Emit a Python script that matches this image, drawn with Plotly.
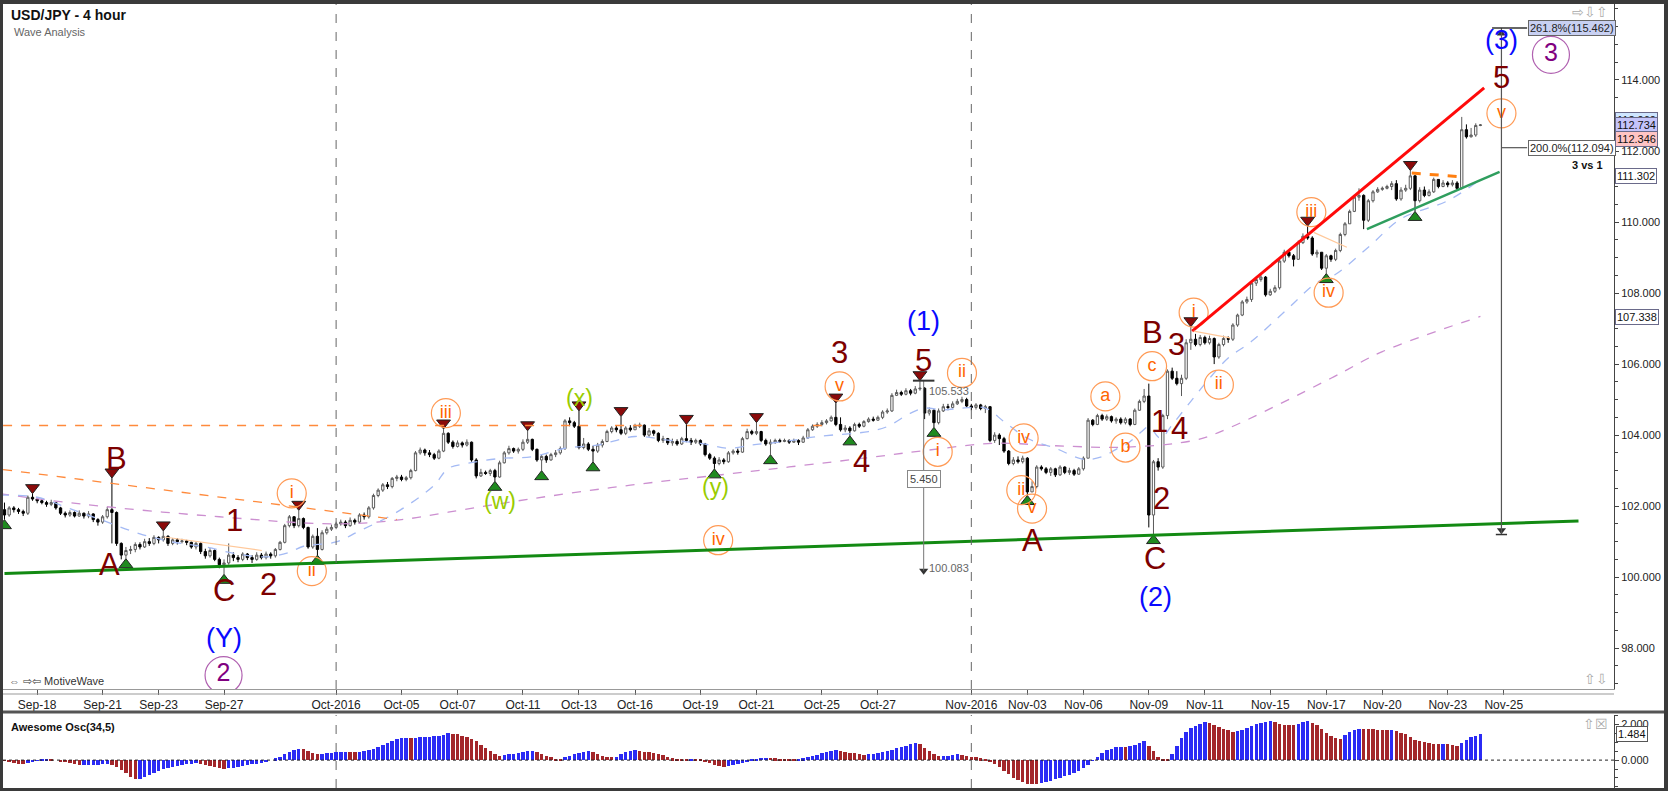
import plotly.graph_objects as go

# ------------------------------------------------------------------ data
tick_idx = [7, 21, 33, 47, 71, 85, 97, 111, 123, 135, 149, 161, 175, 187,
            207, 219, 231, 245, 257, 271, 283, 295, 309, 321]
tick_labels = ["Sep-18", "Sep-21", "Sep-23", "Sep-27", "Oct-2016", "Oct-05", "Oct-07",
               "Oct-11", "Oct-13", "Oct-16", "Oct-19", "Oct-21", "Oct-25", "Oct-27",
               "Nov-2016", "Nov-03", "Nov-06", "Nov-09", "Nov-11", "Nov-15", "Nov-17",
               "Nov-20", "Nov-23", "Nov-25"]
price_ticks = [98, 100, 102, 104, 106, 108, 110, 112, 114]
ao_ticks = [0, 2]
month_lines = [71, 207]

first_open = 101.90
closes = [
    101.75, 101.95, 101.90, 101.85, 101.80, 102.25, 102.20, 102.15, 102.10, 102.05,
    102.10, 101.95, 101.80, 101.75, 101.82, 101.72, 101.80, 101.72, 101.78, 101.62,
    101.55, 101.70, 101.90, 101.82, 100.95, 100.62, 100.75, 100.78, 100.92, 100.85,
    101.00, 100.95, 101.12, 101.05, 101.15, 100.95, 101.05, 101.00, 101.02, 100.98,
    100.85, 100.95, 100.72, 100.60, 100.75, 100.50, 100.35, 100.40, 100.62, 100.55,
    100.50, 100.65, 100.55, 100.50, 100.62, 100.55, 100.65, 100.60, 100.78, 100.98,
    101.45, 101.70, 101.45, 101.65, 101.40, 100.85, 101.15, 100.78, 101.25, 101.35,
    101.40, 101.50, 101.55, 101.45, 101.60, 101.55, 101.75, 101.70, 101.95, 102.30,
    102.45, 102.60, 102.55, 102.78, 102.82, 102.75, 102.80, 103.00, 103.50, 103.58,
    103.50, 103.45, 103.35, 103.55, 104.05, 103.80, 103.68, 103.78, 103.72, 103.80,
    103.30, 102.85, 102.95, 102.92, 103.00, 102.82, 103.22, 103.50, 103.62, 103.55,
    103.60, 103.80, 103.88, 103.60, 103.30, 103.40, 103.30, 103.45, 103.50, 103.62,
    104.40, 104.35, 104.25, 103.65, 103.75, 103.60, 103.55, 103.72, 103.82, 104.10,
    104.20, 104.15, 104.05, 104.20, 104.15, 104.25, 104.28, 104.00, 104.12, 104.05,
    103.85, 103.90, 103.78, 103.82, 103.75, 103.90, 103.85, 103.80, 103.85, 103.75,
    103.45, 103.35, 103.20, 103.30, 103.25, 103.50, 103.55, 103.52, 103.90, 104.10,
    104.05, 104.10, 103.85, 103.75, 103.80, 103.85, 103.82, 103.85, 103.80, 103.85,
    103.80, 103.92, 104.15, 104.25, 104.30, 104.35, 104.40, 104.50, 104.30, 104.15,
    104.20, 104.12, 104.30, 104.25, 104.38, 104.45, 104.42, 104.50, 104.65, 104.68,
    105.12, 105.20, 105.15, 105.25, 105.18, 105.30, 105.32, 104.62, 104.70, 104.35,
    104.68, 104.80, 104.78, 104.88, 104.95, 105.00, 104.82, 104.78, 104.85, 104.75,
    104.80, 103.85, 104.00, 103.90, 103.55, 103.20, 103.30, 103.25, 103.35, 102.40,
    102.55, 103.10, 103.05, 102.95, 103.05, 102.88, 103.10, 102.95, 103.00, 102.90,
    103.05, 103.35, 104.42, 104.30, 104.55, 104.45, 104.52, 104.40, 104.45, 104.35,
    104.45, 104.30, 104.70, 104.95, 105.10, 101.75, 103.25, 103.10, 104.55, 105.80,
    105.60, 105.45, 105.60, 106.60, 106.70, 106.55, 106.75, 106.60, 106.72, 106.20,
    106.55, 106.72, 106.70, 107.10, 107.38, 107.75, 107.82, 108.28, 108.38, 108.45,
    107.95, 108.05, 108.15, 108.90, 109.15, 109.05, 108.95, 109.42, 109.60, 109.55,
    109.10, 109.15, 108.70, 109.05, 108.95, 109.20, 109.65, 109.95, 110.30, 110.70,
    110.75, 110.05, 110.60, 110.85, 110.92, 110.95, 111.00, 111.08, 110.65, 110.90,
    110.95, 111.30, 110.60, 110.90, 110.75, 110.85, 111.20, 111.00, 111.10, 111.05,
    111.10, 110.95, 112.60, 112.40, 112.45, 112.72, 112.734]
highs = [
    102.10, 102.00, 102.00, 101.95, 101.90, 102.30, 102.35, 102.25, 102.20, 102.15,
    102.18, 102.12, 101.98, 101.85, 101.88, 101.85, 101.88, 101.82, 101.86, 101.80,
    101.66, 101.75, 101.98, 102.79, 101.85, 100.98, 100.85, 100.88, 100.98, 100.98,
    101.08, 101.10, 101.18, 101.15, 101.30, 101.18, 101.10, 101.10, 101.08, 101.05,
    101.00, 101.00, 100.98, 100.80, 100.82, 100.78, 100.55, 100.50, 100.95, 100.70,
    100.62, 100.70, 100.68, 100.62, 100.70, 100.68, 100.72, 100.70, 100.82, 101.02,
    101.50, 101.75, 101.72, 101.88, 101.68, 101.42, 101.20, 101.38, 101.32, 101.42,
    101.48, 101.56, 101.62, 101.60, 101.68, 101.65, 101.80, 101.82, 102.00, 102.35,
    102.50, 102.65, 102.68, 102.82, 102.88, 102.88, 102.85, 103.05, 103.55, 103.65,
    103.62, 103.58, 103.50, 103.60, 104.17, 104.08, 103.85, 103.85, 103.82, 103.88,
    103.82, 103.35, 103.05, 103.00, 103.05, 103.05, 103.28, 103.55, 103.70, 103.65,
    103.65, 103.88, 104.12, 103.90, 103.62, 103.45, 103.45, 103.50, 103.58, 103.68,
    104.45, 104.50, 104.40, 104.68, 103.92, 103.80, 103.70, 103.78, 103.88, 104.15,
    104.25, 104.28, 104.52, 104.25, 104.28, 104.32, 104.35, 104.30, 104.20, 104.15,
    104.08, 103.98, 103.92, 103.90, 103.88, 103.95, 104.30, 103.92, 103.90, 103.88,
    103.78, 103.50, 103.40, 103.38, 103.35, 103.55, 103.60, 103.62, 103.95, 104.18,
    104.15, 104.35, 104.12, 103.90, 103.88, 103.90, 103.90, 103.90, 103.88, 103.90,
    103.88, 103.98, 104.20, 104.30, 104.36, 104.42, 104.45, 104.55, 104.90, 104.50,
    104.28, 104.25, 104.35, 104.35, 104.42, 104.50, 104.52, 104.55, 104.70, 104.75,
    105.18, 105.28, 105.25, 105.32, 105.30, 105.38, 105.53, 105.35, 104.78, 104.72,
    104.75, 104.88, 104.88, 104.95, 105.02, 105.08, 105.05, 104.88, 104.90, 104.88,
    104.85, 104.82, 104.08, 104.05, 103.95, 103.58, 103.38, 103.40, 103.42, 103.38,
    102.70, 103.15, 103.15, 103.10, 103.10, 103.08, 103.15, 103.12, 103.08, 103.05,
    103.10, 103.40, 104.48, 104.45, 104.60, 104.60, 104.58, 104.55, 104.50, 104.50,
    104.50, 104.48, 104.75, 105.00, 105.30, 105.45, 103.30, 103.35, 104.60, 105.85,
    105.90, 105.80, 105.70, 106.70, 107.05, 106.85, 106.82, 106.80, 106.80, 106.75,
    106.60, 106.80, 106.78, 107.15, 107.42, 107.80, 107.90, 108.35, 108.45, 108.52,
    108.48, 108.12, 108.22, 108.95, 109.22, 109.20, 109.10, 109.48, 109.68, 109.88,
    109.60, 109.22, 109.15, 109.10, 109.08, 109.25, 109.70, 110.00, 110.35, 110.75,
    110.95, 110.78, 110.65, 110.90, 110.98, 111.00, 111.05, 111.15, 111.18, 110.98,
    111.05, 111.45, 111.32, 110.98, 111.00, 110.92, 111.25, 111.20, 111.18, 111.15,
    111.18, 111.15, 112.96, 112.75, 112.65, 112.78, 112.76]
lows = [
    101.62, 101.70, 101.82, 101.78, 101.72, 101.75, 102.15, 102.08, 102.05, 101.98,
    102.00, 101.90, 101.75, 101.68, 101.70, 101.68, 101.70, 101.65, 101.66, 101.55,
    101.45, 101.50, 101.65, 100.95, 100.88, 100.50, 100.52, 100.65, 100.70, 100.78,
    100.82, 100.88, 100.90, 100.95, 101.00, 100.88, 100.90, 100.92, 100.95, 100.90,
    100.80, 100.78, 100.65, 100.52, 100.55, 100.45, 100.25, 100.08, 100.35, 100.45,
    100.42, 100.45, 100.48, 100.40, 100.46, 100.50, 100.50, 100.52, 100.55, 100.75,
    100.95, 101.40, 101.38, 101.40, 101.35, 100.80, 100.80, 100.62, 100.75, 101.20,
    101.30, 101.35, 101.45, 101.38, 101.42, 101.48, 101.50, 101.62, 101.65, 101.90,
    102.25, 102.40, 102.48, 102.50, 102.70, 102.70, 102.70, 102.75, 102.98, 103.45,
    103.42, 103.38, 103.30, 103.32, 103.52, 103.75, 103.62, 103.65, 103.65, 103.68,
    103.25, 102.78, 102.82, 102.88, 102.85, 102.70, 102.80, 103.20, 103.45, 103.50,
    103.48, 103.55, 103.75, 103.55, 103.25, 103.00, 103.22, 103.28, 103.38, 103.45,
    103.58, 104.25, 104.20, 103.60, 103.60, 103.55, 103.25, 103.50, 103.65, 103.80,
    104.05, 104.08, 104.00, 104.00, 104.10, 104.15, 104.20, 103.95, 103.95, 103.98,
    103.80, 103.78, 103.72, 103.70, 103.70, 103.72, 103.80, 103.72, 103.75, 103.70,
    103.40, 103.30, 103.05, 103.15, 103.18, 103.22, 103.45, 103.45, 103.50, 103.88,
    104.00, 104.00, 103.80, 103.70, 103.45, 103.75, 103.78, 103.80, 103.75, 103.78,
    103.72, 103.78, 103.90, 104.12, 104.20, 104.25, 104.30, 104.38, 104.25, 104.10,
    104.08, 103.98, 104.10, 104.20, 104.22, 104.35, 104.38, 104.40, 104.45, 104.60,
    104.65, 105.10, 105.10, 105.12, 105.12, 105.15, 105.25, 104.45, 104.55, 104.22,
    104.30, 104.65, 104.70, 104.75, 104.85, 104.90, 104.78, 104.70, 104.72, 104.70,
    104.62, 103.80, 103.78, 103.72, 103.50, 103.15, 103.15, 103.20, 103.20, 102.30,
    102.40, 102.50, 103.00, 102.90, 102.85, 102.82, 102.85, 102.90, 102.88, 102.85,
    102.88, 103.00, 103.35, 104.25, 104.28, 104.40, 104.40, 104.35, 104.32, 104.30,
    104.30, 104.25, 104.28, 104.68, 104.90, 101.40, 101.20, 103.00, 103.05, 104.45,
    105.55, 105.40, 105.10, 105.55, 106.40, 106.50, 106.50, 106.55, 106.55, 106.00,
    106.15, 106.50, 106.60, 106.65, 107.05, 107.35, 107.70, 107.75, 108.20, 108.32,
    107.90, 107.92, 108.00, 108.10, 108.85, 109.00, 108.75, 108.95, 109.38, 109.50,
    109.05, 109.00, 108.65, 108.55, 108.88, 108.90, 109.15, 109.60, 109.95, 110.28,
    110.60, 109.80, 110.00, 110.55, 110.82, 110.88, 110.92, 110.90, 110.60, 110.60,
    110.85, 110.90, 110.30, 110.55, 110.70, 110.72, 110.82, 110.95, 110.98, 110.98,
    111.00, 110.90, 110.92, 112.35, 112.38, 112.40, 112.70]

ao_values = [
    -0.05, -0.12, -0.18, -0.20, -0.21, -0.14, -0.08, -0.03, 0.04, 0.08,
    0.05, 0.00, -0.06, -0.12, -0.18, -0.24, -0.30, -0.28, -0.27, -0.26,
    -0.25, -0.24, -0.23, -0.28, -0.40, -0.55, -0.75, -0.95, -1.08, -1.05,
    -0.95, -0.82, -0.70, -0.60, -0.52, -0.45, -0.38, -0.32, -0.27, -0.24,
    -0.21, -0.19, -0.22, -0.28, -0.34, -0.40, -0.46, -0.50, -0.47, -0.42,
    -0.37, -0.32, -0.28, -0.24, -0.20, -0.14, -0.08, 0.00, 0.10, 0.20,
    0.32, 0.45, 0.56, 0.65, 0.60, 0.50, 0.40, 0.35, 0.37, 0.40,
    0.42, 0.45, 0.47, 0.48, 0.46, 0.45, 0.47, 0.50, 0.55, 0.62,
    0.72, 0.85, 0.98, 1.10, 1.18, 1.22, 1.25, 1.24, 1.26, 1.28,
    1.30, 1.32, 1.34, 1.38, 1.44, 1.50, 1.49, 1.45, 1.38, 1.30,
    1.20, 1.05, 0.85, 0.68, 0.50, 0.35, 0.25, 0.28, 0.32, 0.37,
    0.42, 0.47, 0.50, 0.52, 0.45, 0.35, 0.25, 0.15, 0.08, 0.05,
    0.15, 0.25, 0.35, 0.42, 0.48, 0.50, 0.45, 0.35, 0.25, 0.18,
    0.15, 0.20, 0.35, 0.45, 0.53, 0.55, 0.50, 0.45, 0.43, 0.40,
    0.35, 0.28, 0.20, 0.10, 0.05, 0.03, 0.02, 0.03, 0.02, 0.01,
    -0.08, -0.18, -0.28, -0.33, -0.36, -0.35, -0.30, -0.22, -0.14, -0.06,
    0.02, 0.08, 0.12, 0.14, 0.12, 0.10, 0.08, 0.06, 0.05, 0.04,
    0.06, 0.10, 0.15, 0.22, 0.30, 0.38, 0.45, 0.52, 0.56, 0.52,
    0.47, 0.42, 0.38, 0.34, 0.30, 0.35, 0.37, 0.42, 0.45, 0.50,
    0.58, 0.66, 0.74, 0.82, 0.90, 0.95, 0.88, 0.70, 0.50, 0.32,
    0.22, 0.24, 0.26, 0.30, 0.34, 0.30, 0.25, 0.20, 0.18, 0.10,
    0.02, -0.10, -0.22, -0.40, -0.60, -0.80, -0.98, -1.12, -1.25, -1.34,
    -1.35, -1.36, -1.30, -1.22, -1.15, -1.08, -1.00, -0.92, -0.85, -0.75,
    -0.60, -0.45, -0.30, -0.05, 0.20, 0.40, 0.55, 0.65, 0.72, 0.75,
    0.74, 0.80, 0.85, 0.95, 1.05, 0.80, 0.50, 0.20, 0.06, 0.04,
    0.35, 0.80, 1.25, 1.60, 1.80, 1.92, 2.05, 2.12, 2.10, 1.98,
    1.85, 1.75, 1.68, 1.60, 1.62, 1.70, 1.80, 1.92, 2.02, 2.10,
    2.16, 2.18, 2.12, 2.05, 2.00, 1.96, 1.95, 2.05, 2.15, 2.23,
    2.10, 1.95, 1.75, 1.55, 1.35, 1.22, 1.20, 1.40, 1.60, 1.72,
    1.77, 1.76, 1.75, 1.74, 1.72, 1.71, 1.70, 1.72, 1.65, 1.55,
    1.45, 1.30, 1.15, 1.05, 1.00, 0.95, 0.92, 0.90, 0.91, 0.89,
    0.85, 0.80, 0.95, 1.12, 1.30, 1.38, 1.484]

blue_ma_x = [-1, 7, 14, 21, 29, 36, 43, 50, 56, 61, 64, 71, 76, 84, 92, 95, 99, 106, 113,
             120, 127, 135, 142, 149, 155, 160, 167, 174, 185, 189, 194, 197, 201, 205,
             210, 214, 219, 225, 231, 235, 238, 240, 243.5, 245, 247.5, 250, 254, 258,
             262, 267, 275, 281, 285, 292, 299, 309, 316]
blue_ma_y = [102.31, 102.25, 101.93, 101.60, 101.22, 100.99, 100.85, 100.65, 100.57,
             100.70, 100.87, 100.99, 101.30, 101.83, 102.59, 103.06, 103.20, 103.34,
             103.39, 103.63, 103.72, 103.96, 103.86, 103.77, 103.63, 103.72, 103.82,
             103.96, 104.10, 104.24, 104.62, 104.76, 104.71, 104.76, 104.76, 104.38,
             103.91, 103.63, 103.32, 103.39, 103.60, 103.72, 104.10, 104.24, 103.91,
             104.29, 104.95, 105.60, 106.17, 106.64, 107.59, 108.30, 108.53, 109.29,
             110.09, 110.60, 111.20]
purple_ma_x = [-1, 17, 46, 71, 85, 95, 113, 134, 156, 184, 198, 212, 225, 240, 255,
               262, 284, 295, 316]
purple_ma_y = [102.35, 102.05, 101.70, 101.50, 101.62, 101.83, 102.21, 102.59, 102.92,
               103.35, 103.58, 103.77, 103.70, 103.66, 103.86, 104.19, 105.60, 106.35,
               107.34]

peak_idx = [6, 23, 34, 63, 94, 112, 123, 132, 146, 161, 178, 196, 254, 279, 301]
trough_idx = [0, 26, 47, 67, 105, 115, 126, 152, 164, 181, 199, 219, 246, 283, 302]

# Elliott wave labels (text, candle index, price)
labels_darkred = [("B", 23.9, 103.33), ("A", 22.5, 100.36), ("C", 46.9, 99.62),
                  ("1", 49.3, 101.60), ("2", 56.5, 99.78), ("3", 178.8, 106.32),
                  ("4", 183.5, 103.25), ("5", 196.8, 106.10), ("A", 220.0, 101.03),
                  ("B", 245.7, 106.88), ("C", 246.4, 100.52), ("1", 247.3, 104.38),
                  ("2", 247.8, 102.21), ("3", 251.0, 106.55), ("4", 251.6, 104.19),
                  ("5", 320.5, 114.08)]
labels_blue = [("(Y)", 46.9, 98.30), ("(1)", 196.8, 107.22), ("(2)", 246.4, 99.45),
               ("(3)", 320.5, 115.13)]
labels_purple = [("2", 46.9, 97.24), ("3", 331.1, 114.71)]
labels_orange = [("i", 61.5, 102.36), ("ii", 65.8, 100.17), ("iii", 94.5, 104.62),
                 ("iv", 152.8, 101.04), ("v", 178.8, 105.37), ("i", 199.8, 103.53),
                 ("ii", 205.0, 105.75), ("iv", 218.2, 103.91), ("ii", 217.7, 102.45),
                 ("v", 220.0, 101.93), ("a", 235.7, 105.09), ("b", 240.0, 103.65),
                 ("c", 245.7, 105.94), ("i", 254.6, 107.45), ("ii", 260.0, 105.42),
                 ("iii", 279.8, 110.28), ("iv", 283.5, 108.01), ("v", 320.5, 113.06)]
labels_green = [("(w)", 106.0, 102.15), ("(x)", 123.2, 105.04), ("(y)", 152.3, 102.54)]

# trend lines: (x0, y0, x1, y1)
green_base = (0.0, 100.10, 337.0, 101.58)
red_channel = (254.3, 106.93, 316.8, 113.78)
green_support = (291.7, 109.80, 320.1, 111.41)
orange_flag = (301.3, 111.38, 312.4, 111.27)
orange_level = (-0.3, 104.27, 175.0, 104.27)
orange_down = (-0.3, 103.03, 84.0, 101.62)
peach_lines = [(34.2, 101.13, 55.1, 100.75), (280.3, 109.71, 287.4, 109.29),
               (254.6, 106.93, 262.4, 106.74)]

# measurement tools
measure1 = dict(x=196.8, top=105.533, bottom=100.083, diff="5.450")
measure2 = dict(x=320.5, top=115.462, mid=112.094, bottom=101.20)
price_boxes = [(112.88, "112.960", "#cfe6ff"), (112.734, "112.734", "#c4c4fa"),
               (112.346, "112.346", "#ffc4c4"), (111.302, "111.302", "#ffffff"),
               (107.338, "107.338", "#ffffff")]
ao_last = 1.484

# ------------------------------------------------------------------ figure
FONT = "Liberation Sans, Arial, sans-serif"
W, H = 1668, 791
L, R, T, B = 3, 54, 4, 3


def px_x(X):
    return (X - L) / (W - L - R)


def px_y(Y):
    return (H - B - Y) / (H - T - B)


n = len(closes)
xs = list(range(n))
opens = [first_open] + closes[:-1]
hi = [max(h, o, c) for h, o, c in zip(highs, opens, closes)]
lo = [min(l, o, c) for l, o, c in zip(lows, opens, closes)]

fig = go.Figure()

fig.add_trace(go.Scatter(x=purple_ma_x, y=purple_ma_y, mode="lines",
                         line=dict(color="#cc8fd0", width=1.3, dash="dash", shape="spline"),
                         hoverinfo="skip", xaxis="x", yaxis="y"))
fig.add_trace(go.Scatter(x=blue_ma_x, y=blue_ma_y, mode="lines",
                         line=dict(color="#a4baf4", width=1.3, dash="dash", shape="spline"),
                         hoverinfo="skip", xaxis="x", yaxis="y"))

fig.add_trace(go.Candlestick(
    x=xs, open=opens, high=hi, low=lo, close=closes,
    increasing=dict(line=dict(color="#5a5a5a", width=1), fillcolor="#ffffff"),
    decreasing=dict(line=dict(color="#000000", width=1), fillcolor="#000000"),
    whiskerwidth=0, hoverinfo="skip", xaxis="x", yaxis="y"))

# pivot markers
fig.add_trace(go.Scatter(
    x=peak_idx, y=[hi[i] + 0.17 for i in peak_idx], mode="markers",
    marker=dict(symbol="triangle-down", size=12, color="#8b0a0a",
                line=dict(color="#222", width=1)),
    hoverinfo="skip", xaxis="x", yaxis="y"))
fig.add_trace(go.Scatter(
    x=trough_idx, y=[lo[i] - 0.17 for i in trough_idx], mode="markers",
    marker=dict(symbol="triangle-up", size=12, color="#1f8a1f",
                line=dict(color="#222", width=1)),
    hoverinfo="skip", xaxis="x", yaxis="y"))

# AO histogram
ao_colors = []
for i, v in enumerate(ao_values):
    if i > 0 and v > ao_values[i - 1]:
        ao_colors.append("#2b2bf5")
    else:
        ao_colors.append("#a3262a")
fig.add_trace(go.Bar(x=xs, y=ao_values, marker=dict(color=ao_colors, line=dict(width=0)),
                     width=0.74, hoverinfo="skip", xaxis="x2", yaxis="y2"))

# circled labels
fig.add_trace(go.Scatter(
    x=[p[1] for p in labels_orange], y=[p[2] for p in labels_orange],
    mode="markers+text", text=[p[0] for p in labels_orange], textposition="middle center",
    textfont=dict(family=FONT, size=18, color="#ff6600"),
    marker=dict(symbol="circle-open", size=29, color="#ff9a55", line=dict(width=1.2)),
    hoverinfo="skip", xaxis="x", yaxis="y"))
fig.add_trace(go.Scatter(
    x=[p[1] for p in labels_purple], y=[p[2] for p in labels_purple],
    mode="markers+text", text=[p[0] for p in labels_purple], textposition="middle center",
    textfont=dict(family=FONT, size=25, color="#800080"),
    marker=dict(symbol="circle-open", size=37, color="#b060b0", line=dict(width=1.2)),
    hoverinfo="skip", xaxis="x", yaxis="y"))

# measurement arrow heads
fig.add_trace(go.Scatter(
    x=[measure1["x"], measure2["x"], measure2["x"]],
    y=[measure1["bottom"] + 0.1, measure2["top"] - 0.15, measure2["bottom"] + 0.12],
    mode="markers",
    marker=dict(symbol=["triangle-down", "triangle-up", "triangle-down"], size=8,
                color="#333"),
    hoverinfo="skip", xaxis="x", yaxis="y"))

shapes = []


def seg(x0, y0, x1, y1, color, width, dash="solid"):
    shapes.append(dict(type="line", xref="x", yref="y", x0=x0, y0=y0, x1=x1, y1=y1,
                       line=dict(color=color, width=width, dash=dash)))


seg(*green_base, "#138a13", 3)
seg(*red_channel, "#ff0a0a", 3)
seg(*green_support, "#2f9e5e", 2.5)
seg(*orange_flag, "#ff7f10", 3, "dash")
seg(*orange_level, "#ff8a3c", 1.3, "dash")
seg(*orange_down, "#ff8a3c", 1.3, "dash")
for pl in peach_lines:
    seg(*pl, "#ffc89a", 1.2)

# measure 1
seg(measure1["x"], measure1["top"], measure1["x"], measure1["bottom"] + 0.1, "#777", 1)
seg(measure1["x"] - 2.3, measure1["top"], measure1["x"] + 2.3, measure1["top"], "#333", 2)
# measure 2
seg(measure2["x"], measure2["top"], measure2["x"], measure2["bottom"], "#555", 1.2)
seg(measure2["x"] - 2.0, measure2["top"], measure2["x"] + 5.5, measure2["top"], "#333", 1.5)
seg(measure2["x"], measure2["mid"], measure2["x"] + 5.5, measure2["mid"], "#555", 1.2)
seg(measure2["x"] - 1.2, measure2["bottom"], measure2["x"] + 1.2, measure2["bottom"], "#333", 1.5)

# month separators
for m in month_lines:
    for ref in ("y domain", "y2 domain"):
        shapes.append(dict(type="line", xref="x", yref=ref, x0=m, x1=m, y0=0, y1=1,
                           line=dict(color="#666", width=1, dash="dash")))

# AO zero line
shapes.append(dict(type="line", xref="paper", yref="y2", x0=0, x1=1, y0=0, y1=0,
                   line=dict(color="#222", width=1, dash="dot")))

MAIN_BOTTOM_PX = 689
# panel framing
shapes.append(dict(type="line", xref="paper", yref="paper", x0=0, x1=1,
                   y0=px_y(MAIN_BOTTOM_PX + 5), y1=px_y(MAIN_BOTTOM_PX + 5),
                   line=dict(color="#999", width=1)))
shapes.append(dict(type="line", xref="paper", yref="paper", x0=px_x(0), x1=px_x(1665),
                   y0=px_y(712), y1=px_y(712), line=dict(color="#555", width=3)))
# outer dark frame
for (x0, x1, y0, y1) in [(0, 3, 0, 791), (1664, 1668, 0, 791), (0, 1668, 0, 4),
                         (0, 1668, 788, 791)]:
    shapes.append(dict(type="rect", xref="paper", yref="paper",
                       x0=px_x(x0), x1=px_x(x1), y0=px_y(y1), y1=px_y(y0),
                       fillcolor="#3a3a3a", line=dict(width=0)))

annotations = []


def txt(s, x, y, size, color, bold=False, xref="x", yref="y", xanchor="center",
        yanchor="middle", **kw):
    annotations.append(dict(text=("<b>%s</b>" % s) if bold else s, x=x, y=y, xref=xref,
                            yref=yref, xanchor=xanchor, yanchor=yanchor, showarrow=False,
                            font=dict(family=FONT, size=size, color=color), **kw))


for s, x, y in labels_darkred:
    txt(s, x, y, 31, "#7d0000")
for s, x, y in labels_blue:
    txt(s, x, y, 27, "#0a0aff")
for s, x, y in labels_green:
    txt(s, x, y, 23, "#99cc00")

txt("105.533", measure1["x"] + 0.8, 105.25, 11, "#666", xanchor="left")
txt("100.083", measure1["x"] + 0.8, 100.25, 11, "#666", xanchor="left")
txt(measure1["diff"], measure1["x"], 102.76, 11, "#444", bgcolor="#ffffff",
    bordercolor="#888", borderwidth=1, borderpad=2)
txt("261.8%(115.462)", measure2["x"] + 5.6, measure2["top"], 11, "#222", xanchor="left",
    bgcolor="#c8d0f2", bordercolor="#666", borderwidth=1, borderpad=1)
txt("200.0%(112.094)", measure2["x"] + 5.6, measure2["mid"], 11, "#222", xanchor="left",
    bgcolor="#ffffff", bordercolor="#666", borderwidth=1, borderpad=1)
txt("3 vs 1", 342.6, 111.62, 11, "#111", bold=True, xanchor="right")

for val, s, col in price_boxes:
    txt(s, 1.0, val, 11, "#111", xref="paper", xanchor="left", xshift=1,
        bgcolor=col, bordercolor="#6a6a8a", borderwidth=1, borderpad=1)
txt("%.3f" % ao_last, 1.0, ao_last, 11, "#111", xref="paper", yref="y2", xanchor="left",
    xshift=2, bgcolor="#ffffff", bordercolor="#555", borderwidth=1, borderpad=1)

txt("USD/JPY - 4 hour", px_x(9), px_y(15), 14, "#111", bold=True, xref="paper",
    yref="paper", xanchor="left")
txt("Wave Analysis", px_x(12), px_y(32), 11, "#666", xref="paper", yref="paper",
    xanchor="left")
txt("⇔ ⇨⇦ MotiveWave", px_x(7), px_y(681), 11, "#333", xref="paper", yref="paper",
    xanchor="left")
txt("Awesome Osc(34,5)", px_x(9), px_y(727), 11, "#111", bold=True, xref="paper",
    yref="paper", xanchor="left")
txt("⇨⇩⇧", px_x(1610), px_y(12), 14, "#aaa", xref="paper", yref="paper", xanchor="right")
txt("⇧⇩", px_x(1610), px_y(679), 14, "#aaa", xref="paper", yref="paper", xanchor="right")
txt("⇧☒", px_x(1610), px_y(724), 14, "#aaa", xref="paper", yref="paper", xanchor="right")

main_bottom = px_y(MAIN_BOTTOM_PX)
osc_top = px_y(715)

fig.update_layout(
    width=W, height=H, margin=dict(l=L, r=R, t=T, b=B),
    paper_bgcolor="#ffffff", plot_bgcolor="#ffffff", showlegend=False,
    font=dict(family=FONT, size=12, color="#222"),
    shapes=shapes, annotations=annotations, bargap=0,
    xaxis=dict(domain=[0, 1], range=[-0.32, 344.6], anchor="y",
               tickmode="array", tickvals=tick_idx, ticktext=tick_labels,
               ticks="outside", ticklen=5, tickcolor="#555", showline=True,
               linecolor="#999", showgrid=False, zeroline=False,
               tickfont=dict(size=12, color="#222"), rangeslider=dict(visible=False)),
    yaxis=dict(domain=[main_bottom, 1], range=[96.85, 116.14], side="right",
               tickmode="array", tickvals=price_ticks,
               ticktext=["%.3f" % v for v in price_ticks],
               ticks="outside", ticklen=4, tickcolor="#444", showline=True,
               linecolor="#444", showgrid=False, zeroline=False,
               minor=dict(tickmode="linear", tick0=0, dtick=0.5, ticks="outside",
                          ticklen=3, tickcolor="#444"),
               tickfont=dict(size=11, color="#222")),
    xaxis2=dict(domain=[0, 1], anchor="y2", matches="x", showticklabels=False,
                ticks="", showline=False, showgrid=False, zeroline=False),
    yaxis2=dict(domain=[0, osc_top], range=[-1.57, 2.54], side="right",
                tickmode="array", tickvals=ao_ticks,
                ticktext=["%.3f" % v for v in ao_ticks],
                ticks="outside", ticklen=4, tickcolor="#444", showline=True,
                linecolor="#444", showgrid=False, zeroline=False,
                minor=dict(tickmode="linear", tick0=0, dtick=0.5, ticks="outside",
                           ticklen=3, tickcolor="#444"),
                tickfont=dict(size=11, color="#222")),
)

fig.write_html("out.html", config={"displayModeBar": False},
               post_script="document.body.style.margin='0';"
                           "document.body.style.overflow='hidden';")
